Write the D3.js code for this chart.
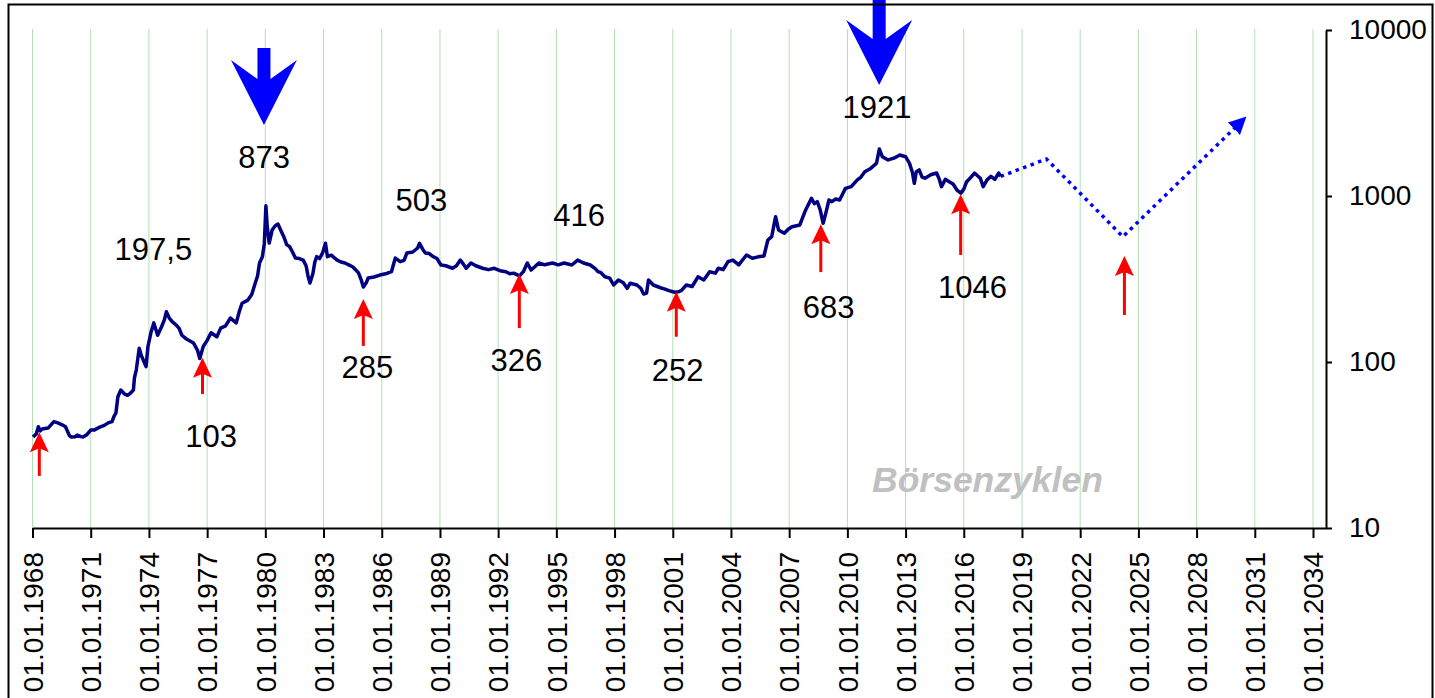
<!DOCTYPE html>
<html>
<head>
<meta charset="utf-8">
<script src="https://cdn.jsdelivr.net/npm/d3@7"></script>
<style>
  body { margin: 0; background: #fff; }
  svg { display: block; font-family: "Liberation Sans", Arial, sans-serif; }
</style>
</head>
<body>
<svg id="chart" width="1435" height="698"></svg>
<script>
// gold price (USD)
const goldYears = [
  1968.03, 1968.2, 1968.3, 1968.4, 1968.5, 1968.8, 1969.1, 1969.3, 1969.5, 1969.7, 1969.9,
  1970.0, 1970.2, 1970.3, 1970.5, 1970.6, 1970.8, 1971.0, 1971.2, 1971.5, 1971.7, 1971.9,
  1972.1, 1972.2, 1972.3, 1972.4, 1972.55, 1972.75, 1972.9, 1973.05, 1973.2, 1973.25, 1973.35,
  1973.5, 1973.6, 1973.85, 1973.95, 1974.1, 1974.25, 1974.45, 1974.65, 1974.8, 1974.9,
  1975.05, 1975.2, 1975.4, 1975.55, 1975.7, 1975.85, 1976.0, 1976.3, 1976.5, 1976.62, 1976.8,
  1977.0, 1977.2, 1977.5, 1977.7, 1977.95, 1978.2, 1978.5, 1978.65, 1978.8, 1979.1, 1979.3,
  1979.45, 1979.6, 1979.7, 1979.85, 1979.95, 1980.03, 1980.1, 1980.2, 1980.35, 1980.5, 1980.65,
  1980.8, 1980.95, 1981.1, 1981.25, 1981.4, 1981.55, 1981.75, 1981.95, 1982.1, 1982.2, 1982.3,
  1982.45, 1982.55, 1982.65, 1982.8, 1982.95, 1983.1, 1983.2, 1983.4, 1983.7, 1983.9, 1984.1,
  1984.3, 1984.5, 1984.65, 1984.8, 1984.95, 1985.05, 1985.2, 1985.3, 1985.6, 1985.9, 1986.2,
  1986.5, 1986.7, 1986.95, 1987.15, 1987.3, 1987.6, 1987.85, 1987.95, 1988.1, 1988.25, 1988.45,
  1988.65, 1988.85, 1989.05, 1989.3, 1989.65, 1989.85, 1990.05, 1990.2, 1990.35, 1990.6, 1990.85,
  1991.2, 1991.5, 1991.8, 1992.1, 1992.4, 1992.6, 1992.8, 1993.1, 1993.3, 1993.5, 1993.7,
  1994.1, 1994.4, 1994.8, 1995.1, 1995.4, 1995.8, 1996.1, 1996.4, 1996.75, 1997.0, 1997.15,
  1997.3, 1997.5, 1997.75, 1997.95, 1998.2, 1998.45, 1998.65, 1998.8, 1999.15, 1999.35, 1999.5,
  1999.65, 1999.75, 2000.0, 2000.2, 2000.45, 2000.6, 2000.8, 2001.1, 2001.3, 2001.45, 2001.7,
  2002.0, 2002.3, 2002.6, 2002.9, 2003.2, 2003.35, 2003.6, 2003.85, 2004.1, 2004.4, 2004.8,
  2005.1, 2005.4, 2005.7, 2005.9, 2006.1, 2006.3, 2006.45, 2006.75, 2006.95, 2007.15, 2007.55,
  2007.85, 2008.15, 2008.3, 2008.45, 2008.6, 2008.75, 2008.9, 2009.05, 2009.2, 2009.4, 2009.6,
  2009.9, 2010.2, 2010.5, 2010.7, 2010.9, 2011.2, 2011.5, 2011.65, 2011.8, 2012.1, 2012.4,
  2012.7, 2013.0, 2013.2, 2013.35, 2013.45, 2013.55, 2013.7, 2013.85, 2014.0, 2014.3, 2014.6,
  2014.75, 2014.85, 2015.05, 2015.25, 2015.45, 2015.65, 2015.85, 2016.0, 2016.15, 2016.35, 2016.55,
  2016.85, 2017.0, 2017.2, 2017.4, 2017.6, 2017.8, 2017.9
];
const goldValues = [
  35.3, 37, 40.7, 38.5, 39.5, 40, 43.7, 43, 42, 40.7, 36,
  35.3, 35.5, 36.3, 35.5, 35.3, 36.5, 38.9, 39, 40.7, 41.5, 43,
  43.7, 47, 49.3, 61.8, 67.8, 64, 63, 65, 67.8, 80, 90,
  121, 110, 93.8, 124, 150, 172, 145, 163, 180, 201,
  184, 175, 167, 160, 145, 140, 136, 130, 118, 105, 124,
  135, 150, 142, 160, 165, 184, 172, 200, 226, 236, 255,
  291, 330, 395, 431, 520, 873, 650, 521, 624, 660, 678,
  620, 569, 510, 495, 460, 423, 420, 411, 380, 330, 299,
  340, 400, 431, 420, 454, 519, 431, 440, 411, 400, 395,
  385, 375, 360, 344, 310, 283, 300, 321, 325, 334, 340,
  350, 423, 402, 410, 454, 460, 486, 519, 480, 454, 450,
  431, 420, 384, 380, 367, 380, 411, 390, 367, 395, 380,
  367, 360, 367, 355, 350, 340, 343, 330, 350, 395, 358,
  395, 385, 395, 385, 395, 384, 411, 395, 384, 365, 350,
  345, 326, 320, 291, 312, 300, 278, 298, 291, 278, 257,
  260, 312, 291, 285, 278, 275, 269, 263, 265, 270, 291,
  285, 326, 312, 350, 343, 367, 360, 402, 411, 385, 441,
  422, 430, 435, 543, 569, 750, 624, 596, 630, 653, 669,
  824, 968, 900, 925, 824, 685, 800, 946, 925, 960, 946,
  1112, 1138, 1248, 1300, 1400, 1466, 1573, 1919, 1724, 1649, 1690,
  1766, 1724, 1573, 1390, 1191, 1400, 1435, 1300, 1280, 1343, 1375,
  1250, 1138, 1260, 1219, 1180, 1086, 1040, 1100, 1219, 1290, 1375,
  1280, 1138, 1250, 1312, 1260, 1375, 1312
];

// projected cycle (dotted)
const forecastYears = [2017.9, 2020.26, 2024.2, 2030.44];
const forecastValues = [1312, 1671, 569, 2910];

// axes
const tickYears = [1968, 1971, 1974, 1977, 1980, 1983, 1986, 1989, 1992, 1995, 1998, 2001,
  2004, 2007, 2010, 2013, 2016, 2019, 2022, 2025, 2028, 2031, 2034];
const yTicks = [10, 100, 1000, 10000];

// annotations
const labelTexts = ["197,5", "103", "873", "285", "503", "326", "416", "252", "1921", "683", "1046"];
const labelYears = [1974.23, 1977.2, 1979.94, 1985.26, 1988.04, 1992.94, 1996.18, 2001.25, 2011.53, 2009.03, 2016.45];
const labelValues = [411, 30.9, 1469, 79.8, 812, 88.7, 659, 76.9, 2951, 183, 242];

// red arrows at the cycle lows
const lowYears = [1968.35, 1976.76, 1985.05, 1993.09, 2001.18, 2008.63, 2015.84, 2024.28];
const lowTips = [37.8, 106, 240, 339, 265, 676, 1026, 435];
const lowTails = [20.6, 64.1, 125, 160, 142, 348, 441, 192];

// blue arrows at the cycle tops
const topYears = [1979.93, 2011.64];
const topTips = [2680, 4665];

function yearToDate(v) {
  const yr = Math.floor(v);
  const a = new Date(yr, 0, 1), b = new Date(yr + 1, 0, 1);
  return new Date(a.getTime() + (v - yr) * (b - a));
}

const svg = d3.select('#chart');

const x = d3.scaleTime()
  .domain([yearToDate(1968), yearToDate(2034.67)])
  .range([32.5, 1326]);
const y = d3.scaleLog()
  .domain([10, 10000])
  .range([528, 30]);

// gridlines
svg.append('g')
  .selectAll('line')
  .data(tickYears)
  .join('line')
  .attr('x1', d => x(yearToDate(d)))
  .attr('x2', d => x(yearToDate(d)))
  .attr('y1', 29)
  .attr('y2', y(10))
  .style('stroke', '#b3dfb3')
  .style('stroke-width', 1);

// x axis
const xAxis = svg.append('g')
  .attr('transform', `translate(0,${y(10)})`)
  .call(d3.axisBottom(x)
    .tickValues(tickYears.map(yearToDate))
    .tickFormat(d3.timeFormat('%d.%m.%Y'))
    .tickSize(10)
    .tickSizeOuter(0));
xAxis.select('.domain').style('stroke', '#000').style('stroke-width', 2);
xAxis.selectAll('.tick line').style('stroke', '#000').style('stroke-width', 2);
xAxis.selectAll('.tick text')
  .attr('transform', 'rotate(-90)')
  .attr('x', -24)
  .attr('y', 0)
  .attr('dy', '0.35em')
  .style('text-anchor', 'end')
  .style('font-size', '28px')
  .style('fill', '#000')
  .style('font-family', '"Liberation Sans", Arial, sans-serif');

// y axis on the right
const yAxis = svg.append('g')
  .attr('transform', 'translate(1326,0)')
  .call(d3.axisRight(y)
    .tickValues(yTicks)
    .tickFormat(d3.format('d'))
    .tickSize(6)
    .tickSizeOuter(0)
    .tickPadding(17));
yAxis.select('.domain').style('stroke', '#000').style('stroke-width', 2);
yAxis.selectAll('.tick line').style('stroke', '#000').style('stroke-width', 2);
yAxis.selectAll('.tick text')
  .style('font-size', '28px')
  .style('fill', '#000')
  .style('font-family', '"Liberation Sans", Arial, sans-serif');

// watermark
svg.append('text')
  .attr('x', 872)
  .attr('y', 492)
  .text('Börsenzyklen')
  .style('font-size', '35.5px')
  .style('font-weight', 'bold')
  .style('font-style', 'italic')
  .style('fill', '#c0c0c0');

// forecast
svg.append('defs').append('marker')
  .attr('id', 'head')
  .attr('viewBox', '0 0 10 10')
  .attr('refX', 8)
  .attr('refY', 5)
  .attr('markerWidth', 5)
  .attr('markerHeight', 5)
  .attr('markerUnits', 'strokeWidth')
  .attr('orient', 'auto')
  .append('path')
  .attr('d', 'M0,0 L10,5 L0,10 z')
  .style('fill', '#0000ff');

const line = d3.line()
  .x(d => x(yearToDate(d[0])))
  .y(d => y(d[1]));

svg.append('path')
  .datum(d3.zip(forecastYears, forecastValues))
  .attr('d', line)
  .attr('marker-end', 'url(#head)')
  .style('fill', 'none')
  .style('stroke', '#0000ff')
  .style('stroke-width', 3.5)
  .style('stroke-dasharray', '3.5,4.5');

// gold price
svg.append('path')
  .datum(d3.zip(goldYears, goldValues))
  .attr('d', line)
  .style('fill', 'none')
  .style('stroke', '#000080')
  .style('stroke-width', 3.5)
  .style('stroke-linejoin', 'round');

// red arrows
const lows = svg.append('g')
  .selectAll('g')
  .data(d3.range(lowYears.length))
  .join('g')
  .attr('transform', i => `translate(${x(yearToDate(lowYears[i]))},${y(lowTips[i])})`);
lows.append('line')
  .attr('x1', 0).attr('x2', 0)
  .attr('y1', 14)
  .attr('y2', i => y(lowTails[i]) - y(lowTips[i]))
  .style('stroke', '#ff0000')
  .style('stroke-width', 3);
lows.append('path')
  .attr('d', 'M0,0 L-9.5,20 L0,16 L9.5,20 Z')
  .style('fill', '#ff0000');

// blue arrows
const shaftLen = [77, 92];
svg.append('g')
  .selectAll('path')
  .data(d3.range(topYears.length))
  .join('path')
  .attr('transform', i => `translate(${x(yearToDate(topYears[i]))},${y(topTips[i])})`)
  .attr('d', i => `M0,0 L-33,-65 L-6.5,-46 L-6.5,${-shaftLen[i]} L6.5,${-shaftLen[i]} L6.5,-46 L33,-65 Z`)
  .style('fill', '#0000ff');

// value labels
svg.append('g')
  .selectAll('text')
  .data(labelTexts)
  .join('text')
  .attr('x', (d, i) => x(yearToDate(labelYears[i])))
  .attr('y', (d, i) => y(labelValues[i]))
  .attr('text-anchor', 'middle')
  .text(d => d)
  .style('font-size', '31px')
  .style('fill', '#000');

// outer frame
svg.append('rect')
  .attr('x', 8.5)
  .attr('y', 4.5)
  .attr('width', 1424)
  .attr('height', 720)
  .style('fill', 'none')
  .style('stroke', '#000')
  .style('stroke-width', 2);
</script>
</body>
</html>
